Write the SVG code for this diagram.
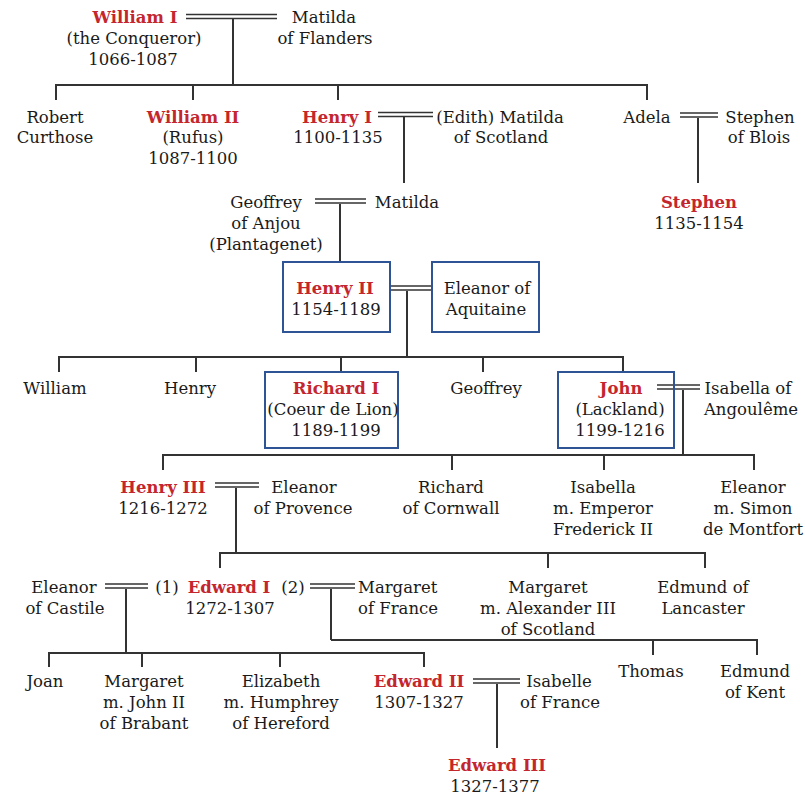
<svg xmlns="http://www.w3.org/2000/svg" width="805" height="797" viewBox="0 0 805 797">
<style>
text{font-family:"DejaVu Serif","Liberation Serif",serif;font-size:16.5px;fill:#1a1a1a;text-anchor:middle}
.k{font-weight:bold;fill:#c4262e}
.l{text-anchor:start}
.c line,.c polyline{stroke:#333;stroke-width:2;fill:none}
.c .d{stroke-width:1.6}
.b{fill:none;stroke:#2f5496;stroke-width:2}
</style>
<rect width="805" height="797" fill="#fff"/>
<g class="c" id="connectors">
<line class="d" x1="186" y1="14.5" x2="277" y2="14.5"/><line class="d" x1="186" y1="18.5" x2="277" y2="18.5"/>
<line x1="233" y1="19" x2="233" y2="85"/>
<polyline points="56,100 56,85 647,85 647,100"/>
<line x1="193" y1="85" x2="193" y2="100"/><line x1="338" y1="85" x2="338" y2="100"/>
<line class="d" x1="378" y1="112.5" x2="433" y2="112.5"/><line class="d" x1="378" y1="116.5" x2="433" y2="116.5"/>
<line x1="404" y1="117" x2="404" y2="183"/>
<line class="d" x1="680" y1="113" x2="718" y2="113"/><line class="d" x1="680" y1="117" x2="718" y2="117"/>
<line x1="698" y1="118" x2="698" y2="183"/>
<line class="d" x1="315" y1="199" x2="366" y2="199"/><line class="d" x1="315" y1="203" x2="366" y2="203"/>
<line x1="340" y1="204" x2="340" y2="262"/>
<line class="d" x1="390" y1="286" x2="432" y2="286"/><line class="d" x1="390" y1="290" x2="432" y2="290"/>
<line x1="407" y1="291" x2="407" y2="357"/>
<polyline points="59,372 59,357 623,357 623,372"/>
<line x1="196" y1="357" x2="196" y2="372"/><line x1="341" y1="357" x2="341" y2="372"/><line x1="483" y1="357" x2="483" y2="372"/>
<line class="d" x1="657" y1="385" x2="700" y2="385"/><line class="d" x1="657" y1="389" x2="700" y2="389"/>
<line x1="683" y1="390" x2="683" y2="455"/>
<polyline points="163,470 163,455 754,455 754,470"/>
<line x1="452" y1="455" x2="452" y2="470"/><line x1="604" y1="455" x2="604" y2="470"/>
<line class="d" x1="215" y1="483" x2="259" y2="483"/><line class="d" x1="215" y1="487" x2="259" y2="487"/>
<line x1="236" y1="488" x2="236" y2="553"/>
<polyline points="220,568 220,553 705,553 705,568"/>
<line x1="548" y1="553" x2="548" y2="568"/>
<line class="d" x1="105" y1="584" x2="148" y2="584"/><line class="d" x1="105" y1="588" x2="148" y2="588"/>
<line x1="126" y1="589" x2="126" y2="653"/>
<line class="d" x1="310" y1="584" x2="355" y2="584"/><line class="d" x1="310" y1="588" x2="355" y2="588"/>
<line x1="331" y1="589" x2="331" y2="640"/>
<polyline points="331,640 757,640 757,655"/>
<line x1="653" y1="640" x2="653" y2="655"/>
<polyline points="49,667 49,653 424,653 424,667"/>
<line x1="142" y1="653" x2="142" y2="667"/><line x1="280" y1="653" x2="280" y2="667"/>
<line class="d" x1="473" y1="679" x2="520" y2="679"/><line class="d" x1="473" y1="683" x2="520" y2="683"/>
<line x1="497" y1="684" x2="497" y2="748"/>
</g>
<g id="william1"><text class="k" x="135" y="23">William I</text><text x="134" y="44">(the Conqueror)</text><text x="133" y="65">1066-1087</text></g>
<g id="matilda-flanders"><text x="324" y="23">Matilda</text><text x="325" y="44">of Flanders</text></g>
<g id="robert"><text x="55" y="123">Robert</text><text x="55" y="143">Curthose</text></g>
<g id="william2"><text class="k" x="193" y="123">William II</text><text x="193" y="143">(Rufus)</text><text x="193" y="164">1087-1100</text></g>
<g id="henry1"><text class="k" x="337" y="123">Henry I</text><text x="338" y="143">1100-1135</text></g>
<g id="matilda-scotland"><text x="500" y="123">(Edith) Matilda</text><text x="501" y="143">of Scotland</text></g>
<g id="adela"><text x="647" y="123">Adela</text></g>
<g id="stephen-blois"><text x="760" y="123">Stephen</text><text x="759" y="143">of Blois</text></g>
<g id="stephen"><text class="k" x="699" y="208">Stephen</text><text x="699" y="229">1135-1154</text></g>
<g id="geoffrey-anjou"><text x="266" y="208">Geoffrey</text><text x="266" y="229">of Anjou</text><text x="266" y="250">(Plantagenet)</text></g>
<g id="matilda"><text x="407" y="208">Matilda</text></g>
<g id="henry2"><rect class="b" x="283" y="262" width="107" height="70"/><text class="k" x="335" y="294">Henry II</text><text x="336" y="315">1154-1189</text></g>
<g id="eleanor-aquitaine"><rect class="b" x="432" y="262" width="107" height="70"/><text x="487" y="294">Eleanor of</text><text x="486" y="315">Aquitaine</text></g>
<g id="william"><text x="55" y="394">William</text></g>
<g id="henry"><text x="190" y="394">Henry</text></g>
<g id="richard1"><rect class="b" x="265" y="372" width="133" height="76"/><text class="k" x="336" y="394">Richard I</text><text x="333" y="415">(Coeur de Lion)</text><text x="336" y="436">1189-1199</text></g>
<g id="geoffrey"><text x="486" y="394">Geoffrey</text></g>
<g id="john"><rect class="b" x="558" y="372" width="116" height="76"/><text class="k" x="621" y="394">John</text><text x="620" y="415">(Lackland)</text><text x="620" y="436">1199-1216</text></g>
<g id="isabella-angouleme"><text x="748" y="394">Isabella of</text><text x="751" y="415">Angoulême</text></g>
<g id="henry3"><text class="k" x="163" y="493">Henry III</text><text x="163" y="514">1216-1272</text></g>
<g id="eleanor-provence"><text x="304" y="493">Eleanor</text><text x="303" y="514">of Provence</text></g>
<g id="richard-cornwall"><text x="451" y="493">Richard</text><text x="451" y="514">of Cornwall</text></g>
<g id="isabella"><text x="603" y="493">Isabella</text><text x="603" y="514">m. Emperor</text><text x="603" y="535">Frederick II</text></g>
<g id="eleanor-montfort"><text x="753" y="493">Eleanor</text><text x="753" y="514">m. Simon</text><text x="753" y="535">de Montfort</text></g>
<g id="eleanor-castile"><text x="64" y="593">Eleanor</text><text x="65" y="614">of Castile</text></g>
<g id="edward1"><text x="167" y="593">(1)</text><text class="k" x="229" y="593">Edward I</text><text x="293" y="593">(2)</text><text x="230" y="614">1272-1307</text></g>
<g id="margaret-france"><text class="l" x="358" y="593">Margaret</text><text class="l" x="358" y="614">of France</text></g>
<g id="margaret-scotland"><text x="548" y="593">Margaret</text><text x="548" y="614">m. Alexander III</text><text x="548" y="635">of Scotland</text></g>
<g id="edmund-lancaster"><text x="703" y="593">Edmund of</text><text x="703" y="614">Lancaster</text></g>
<g id="joan"><text x="45" y="687">Joan</text></g>
<g id="margaret-brabant"><text x="144" y="687">Margaret</text><text x="144" y="708">m. John II</text><text x="144" y="729">of Brabant</text></g>
<g id="elizabeth"><text x="281" y="687">Elizabeth</text><text x="281" y="708">m. Humphrey</text><text x="281" y="729">of Hereford</text></g>
<g id="edward2"><text class="k" x="419" y="687">Edward II</text><text x="419" y="708">1307-1327</text></g>
<g id="isabelle-france"><text x="559" y="687">Isabelle</text><text x="560" y="708">of France</text></g>
<g id="thomas"><text x="651" y="677">Thomas</text></g>
<g id="edmund-kent"><text x="755" y="677">Edmund</text><text x="755" y="698">of Kent</text></g>
<g id="edward3"><text class="k" x="497" y="771">Edward III</text><text x="495" y="792">1327-1377</text></g>
</svg>
